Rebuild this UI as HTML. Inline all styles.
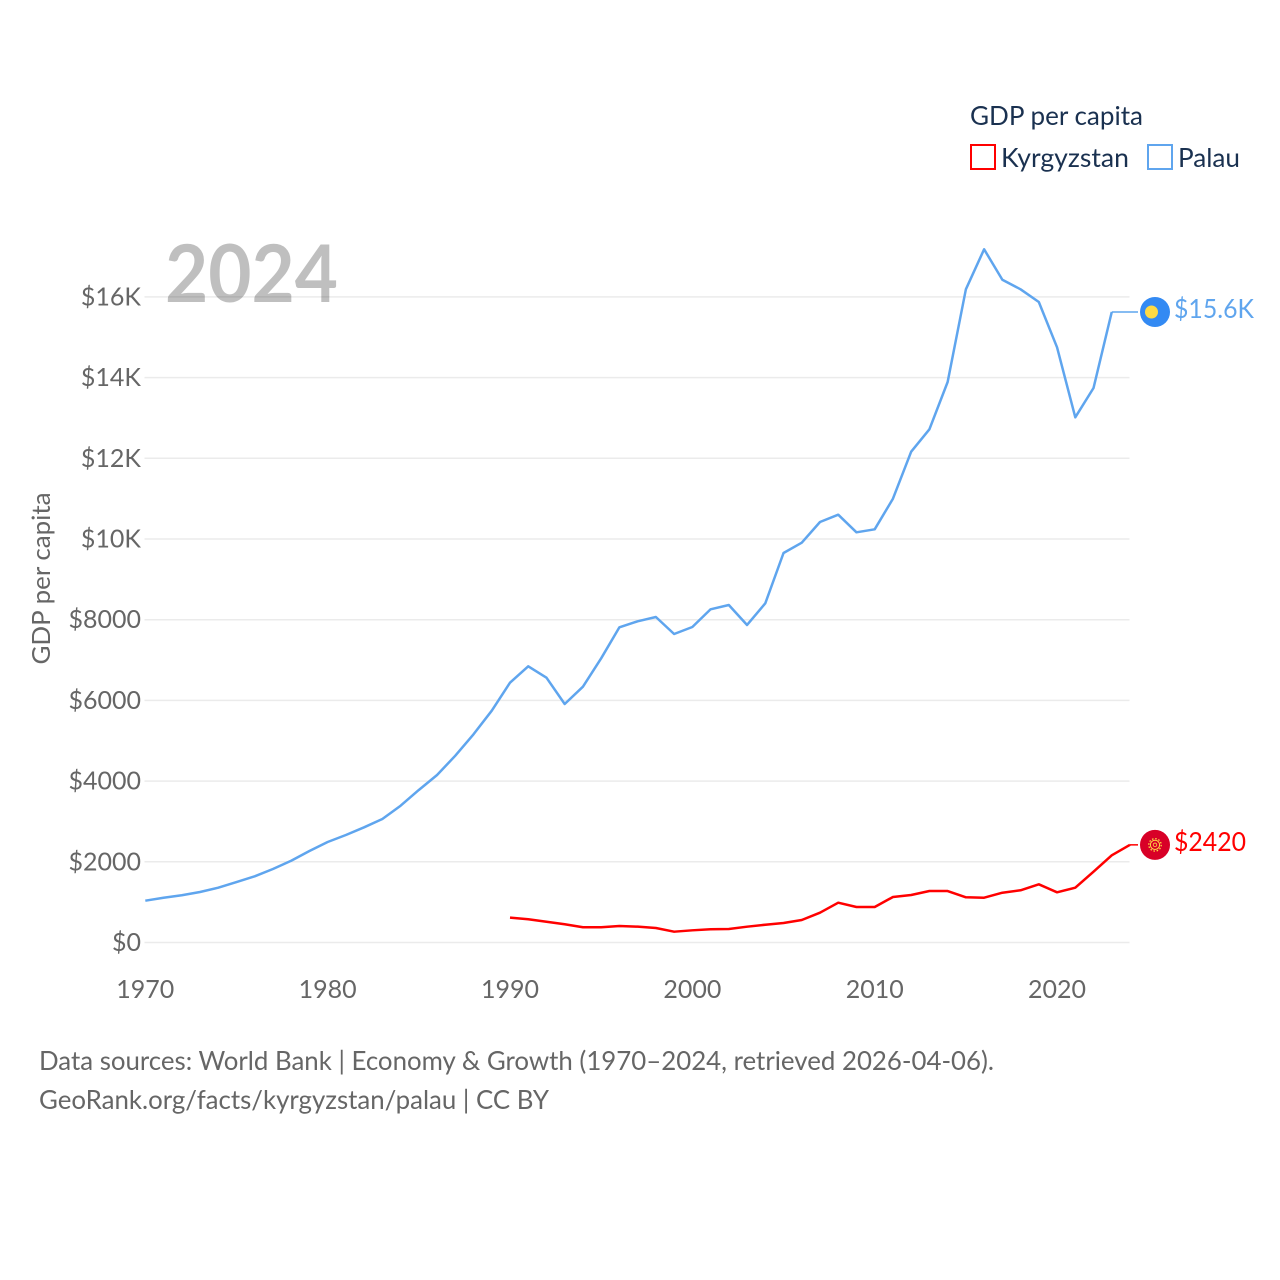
<!DOCTYPE html>
<html lang="en">
<head>
<meta charset="utf-8">
<title>GDP per capita: Kyrgyzstan and Palau</title>
<style>
html,body{margin:0;padding:0;background:#fff;}
svg{display:block;}
text{font-family:"Lato","Carlito","Liberation Sans",sans-serif;}
</style>
</head>
<body>
<svg id="chart" xmlns="http://www.w3.org/2000/svg" width="1280" height="1280" viewBox="0 0 1280 1280">
  <rect x="0" y="0" width="1280" height="1280" fill="#fff"/>
  <g id="grid"></g>
  <g id="yticks"></g>
  <g id="xticks"></g>
  <g id="series"></g>
  <text x="165" y="302" font-size="80" font-weight="700" fill="#000" fill-opacity="0.25" textLength="173" lengthAdjust="spacingAndGlyphs">2024</text>
  <text transform="translate(50,664.5) rotate(-90)" font-size="25" fill="#666" textLength="172" lengthAdjust="spacingAndGlyphs">GDP per capita</text>
  <g>
    <text x="970" y="125" font-size="26" fill="#1a3150" textLength="173" lengthAdjust="spacingAndGlyphs">GDP per capita</text>
    <g>
      <rect x="971" y="145" width="24" height="24" fill="#fff" stroke="#ff0000" stroke-width="2"/>
      <text x="1001" y="167" font-size="26" fill="#1a3150" textLength="128" lengthAdjust="spacingAndGlyphs">Kyrgyzstan</text>
    </g>
    <g>
      <rect x="1148" y="145" width="24" height="24" fill="#fff" stroke="#5fa5ee" stroke-width="2"/>
      <text x="1178" y="167" font-size="26" fill="#1a3150" textLength="62" lengthAdjust="spacingAndGlyphs">Palau</text>
    </g>
  </g>
  <text x="39" y="1070" font-size="26" fill="#666" textLength="955" lengthAdjust="spacingAndGlyphs">Data sources: World Bank | Economy &amp; Growth (1970–2024, retrieved 2026-04-06).</text>
  <text x="39" y="1109" font-size="26" fill="#666" textLength="510" lengthAdjust="spacingAndGlyphs">GeoRank.org/facts/kyrgyzstan/palau | CC BY</text>
</svg>
<script>
const yTickValues = [0, 2000, 4000, 6000, 8000, 10000, 12000, 14000, 16000];
const yTickLabels = ["$0", "$2000", "$4000", "$6000", "$8000", "$10K", "$12K", "$14K", "$16K"];
const xTickValues = [1970, 1980, 1990, 2000, 2010, 2020];
const xTickLabels = ["1970", "1980", "1990", "2000", "2010", "2020"];
const palauStartYear = 1970;
const palauValues = [1036, 1110, 1170, 1252, 1358, 1499, 1641, 1822, 2027, 2268, 2491, 2664, 2855, 3061, 3390, 3780, 4151, 4630, 5160, 5745, 6439, 6845, 6563, 5911, 6340, 7043, 7812, 7960, 8067, 7646, 7819, 8258, 8364, 7869, 8406, 9653, 9908, 10421, 10602, 10166, 10240, 10998, 12163, 12719, 13891, 16188, 17180, 16426, 16188, 15874, 14751, 13016, 13742, 15626];
const palauEndLabel = "$15.6K";
const kyrgyzStartYear = 1990;
const kyrgyzValues = [615, 575, 515, 451, 377, 377, 409, 392, 359, 268, 302, 327, 335, 392, 441, 483, 558, 739, 986, 880, 880, 1128, 1177, 1276, 1276, 1120, 1110, 1234, 1294, 1442, 1244, 1358, 1755, 2161, 2420];
const kyrgyzEndLabel = "$2420";

const NS = "http://www.w3.org/2000/svg";
function xScale(year) { return 145.3 + (year - 1970) * 18.235; }
function yScale(value) { return 942.5 - value * 0.04035; }
function make(tag, attrs, parent, content) {
  const el = document.createElementNS(NS, tag);
  Object.keys(attrs).forEach(function (k) { el.setAttribute(k, attrs[k]); });
  if (content !== undefined) el.textContent = content;
  parent.appendChild(el);
  return el;
}
function linePoints(startYear, values) {
  return values.map(function (v, i) {
    return xScale(startYear + i).toFixed(2) + "," + yScale(v).toFixed(2);
  }).join(" ");
}

const gridGroup = document.getElementById("grid");
const yGroup = document.getElementById("yticks");
const xGroup = document.getElementById("xticks");
const seriesGroup = document.getElementById("series");

yTickValues.forEach(function (v, i) {
  const gridLine = make("line", {x1: 144.5, x2: 1129.5, y1: yScale(v), y2: yScale(v), stroke: "#ebebeb", "stroke-width": 1.5}, gridGroup);
  
  
  const label = make("text", {x: 141, y: yScale(v) + 8.5, "text-anchor": "end", "font-size": 25, fill: "#666"}, yGroup, yTickLabels[i]);
  
  
});

xTickValues.forEach(function (v, i) {
  const label = make("text", {x: xScale(v), y: 998, "text-anchor": "middle", "font-size": 25, fill: "#666"}, xGroup, xTickLabels[i]);
  
  
});

function drawEnd(startYear, values, color, labelText, labelWidth, labelDy) {
  const lastYear = startYear + values.length - 1;
  const lastValue = values[values.length - 1];
  const ex = xScale(lastYear);
  const ey = yScale(lastValue);
  const connector = make("line", {x1: ex, x2: 1138, y1: ey, y2: ey, stroke: color, "stroke-width": 1.5}, seriesGroup);
  
  
  const endLabel = make("text", {x: 1174, y: ey + labelDy, "font-size": 26, fill: color, textLength: labelWidth, lengthAdjust: "spacingAndGlyphs"}, seriesGroup, labelText);
  
  
  return ey;
}

const palauLine = make("polyline", {points: linePoints(palauStartYear, palauValues), fill: "none", stroke: "#5fa5ee", "stroke-width": 2.5, "stroke-linejoin": "round"}, seriesGroup);


const kyrgyzLine = make("polyline", {points: linePoints(kyrgyzStartYear, kyrgyzValues), fill: "none", stroke: "#ff0000", "stroke-width": 2.5, "stroke-linejoin": "round"}, seriesGroup);



const palauY = drawEnd(palauStartYear, palauValues, "#5fa5ee", palauEndLabel, 80, 6);
const kyrgyzY = drawEnd(kyrgyzStartYear, kyrgyzValues, "#ff0000", kyrgyzEndLabel, 72, 6);

const palauFlag = make("g", {transform: "translate(1155," + palauY + ")"}, seriesGroup);


make("circle", {cx: 0, cy: 0, r: 15, fill: "#338af3"}, palauFlag);
make("circle", {cx: -3.5, cy: 0, r: 6.5, fill: "#ffda44"}, palauFlag);

const kyrgyzFlag = make("g", {transform: "translate(1155," + kyrgyzY + ")"}, seriesGroup);


make("circle", {cx: 0, cy: 0, r: 15, fill: "#d80027"}, kyrgyzFlag);
make("circle", {cx: 0, cy: 0, r: 4.6, fill: "none", stroke: "#ffda44", "stroke-width": 1}, kyrgyzFlag);
make("circle", {cx: 0, cy: 0, r: 6.2, fill: "none", stroke: "#ffda44", "stroke-width": 1.3, "stroke-dasharray": "1.5 1.75"}, kyrgyzFlag);
make("circle", {cx: 0, cy: 0, r: 1.8, fill: "none", stroke: "#ffda44", "stroke-width": 0.8}, kyrgyzFlag);
</script>
</body>
</html>
